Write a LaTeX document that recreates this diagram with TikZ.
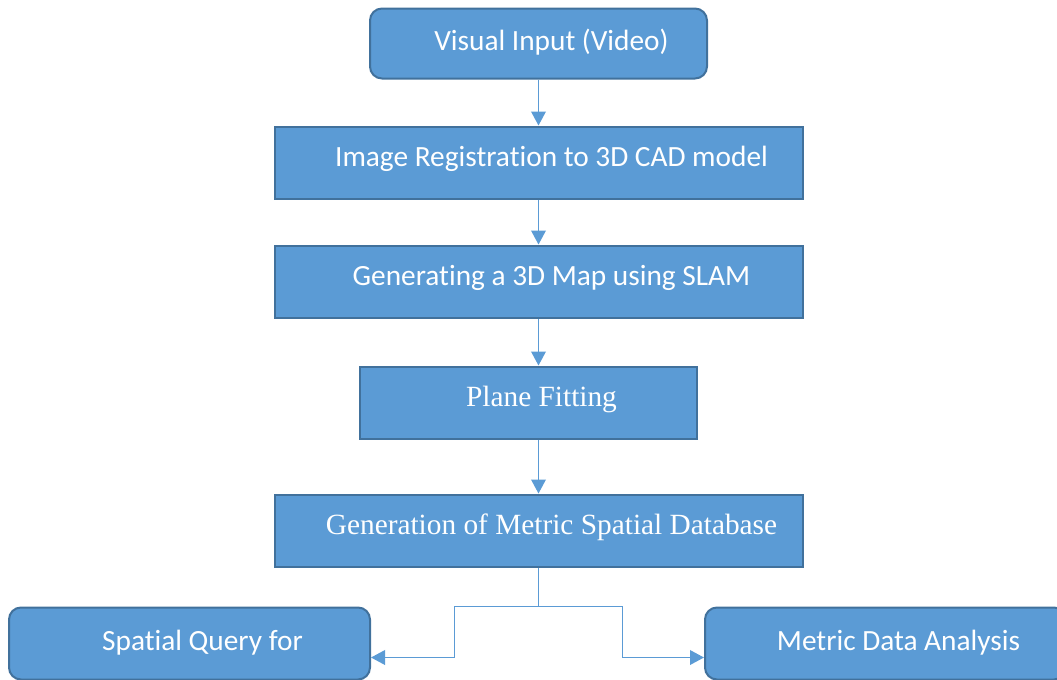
\documentclass[tikz,border=0pt]{standalone}
\usepackage{fontspec}
\setmainfont{Liberation Serif}
\newfontfamily\calibri[Ligatures=NoCommon]{Carlito}
\usetikzlibrary{arrows.meta, positioning}
\definecolor{boxfill}{HTML}{5B9BD5}
\definecolor{boxline}{HTML}{41719C}

\begin{document}
\begin{tikzpicture}[
    x=0.75pt, y=0.75pt,
    node distance=34.5pt,
    box/.style={draw=boxline, fill=boxfill, line width=1.5pt, text=white,
      minimum height=54pt, text height=16pt, text depth=9.5pt,
      font=\calibri\fontsize{22}{26}\selectfont,
      execute at begin node={\hspace*{19.5pt}}},
    roundbox/.style={box, rounded corners=9pt, text depth=5pt},
    serifbox/.style={box, font=\fontsize{22}{26}\selectfont},
    line/.style={draw=boxfill, line width=1.1pt},
    arrow/.style={line, -{Triangle[width=11pt,length=10.5pt]}}
  ]
  \useasboundingbox (0,0) rectangle (1057,-679);
  \node[roundbox, minimum width=252.75pt, minimum height=52.5pt] (video) at (538.5,-43.5) {Visual Input (Video)};
  \node[box, minimum width=396pt, below=of video] (reg) {Image Registration to 3D CAD model};
  \node[box, minimum width=396pt, below=33.75pt of reg] (slam) {Generating a 3D Map using SLAM};
  \node[serifbox, minimum width=252.75pt, below=35.25pt of slam, xshift=-7.5pt] (plane) {Plane Fitting};
  \node[serifbox, minimum width=396pt, below=40.5pt of plane, xshift=7.5pt] (gen) {Generation of Metric Spatial Database};
  \node[roundbox, minimum width=270.75pt] (query) at (189.5,-643.5) {Spatial Query for};
  \node[roundbox, minimum width=270.75pt] (analysis) at (885.5,-643.5) {Metric Data Analysis};
  \draw[arrow] (video) -- (reg);
  \draw[arrow] (reg) -- (slam);
  \draw[arrow] (slam.south) -- (slam.south |- plane.north);
  \draw[arrow] (slam.south |- plane.south) -- (gen.north);
  \draw[line] (gen.south) -- ++(0,-39) coordinate (split);
  \draw[arrow] (split) -- ++(-84,0) |- ([yshift=-10.5pt]query.east);
  \draw[arrow] (split) -- ++(84,0) |- ([yshift=-10.5pt]analysis.west);
\end{tikzpicture}
\end{document}
